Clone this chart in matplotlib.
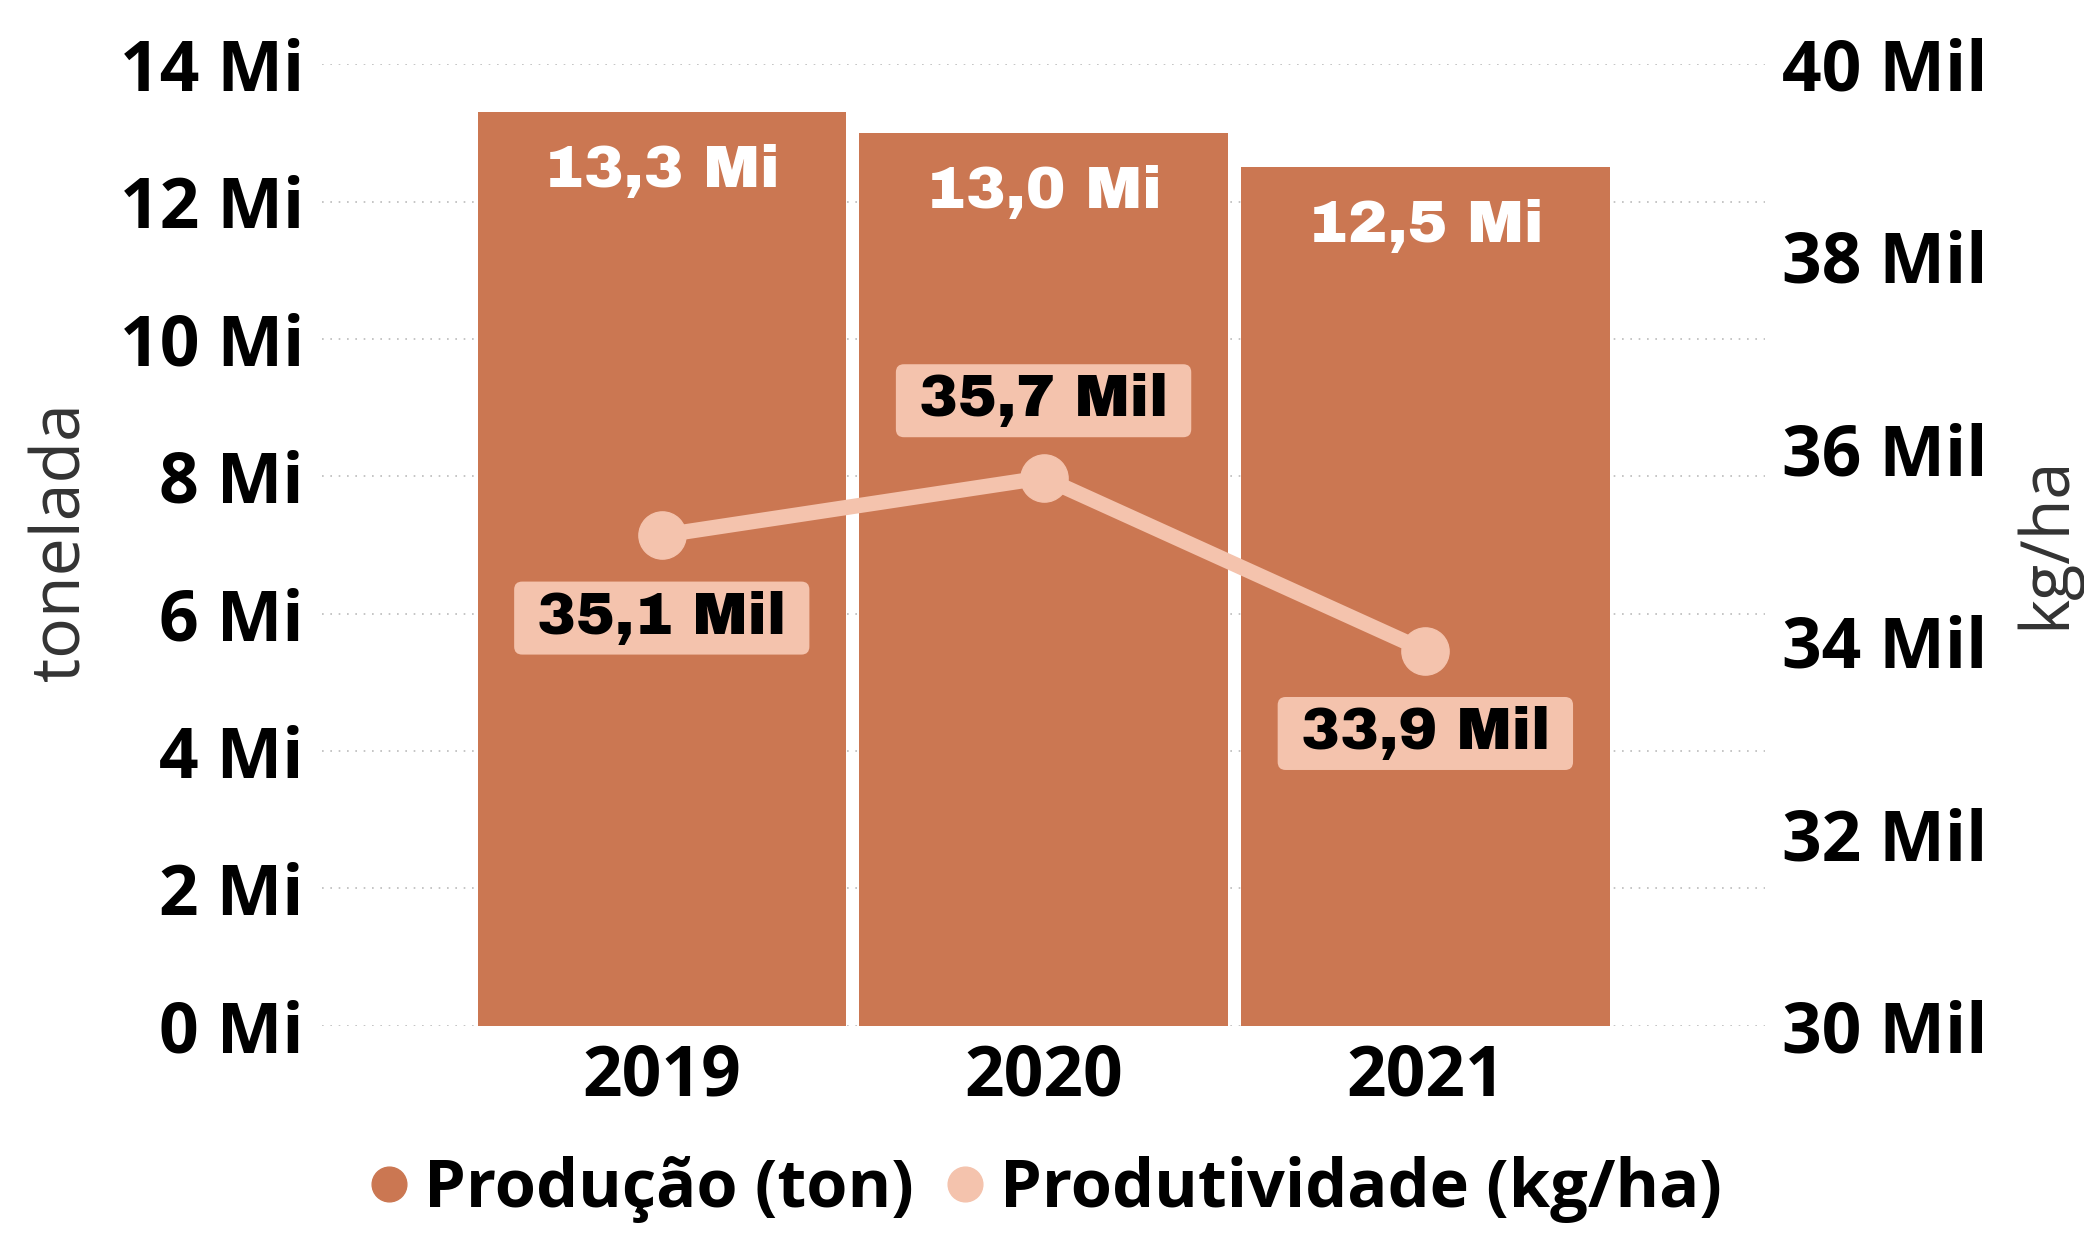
import matplotlib.pyplot as plt
import matplotlib.font_manager as fm
from matplotlib.lines import Line2D
from matplotlib.patches import FancyBboxPatch
from matplotlib.transforms import IdentityTransform

anos = ['2019', '2020', '2021']
producao = [13.3, 13.0, 12.5]          # milhões de toneladas
produtividade = [35.1, 35.7, 33.9]     # mil kg/ha
rotulos_prod = ['13,3 Mi', '13,0 Mi', '12,5 Mi']
rotulos_produt = ['35,1 Mil', '35,7 Mil', '33,9 Mil']
ticks_esq = [0, 2, 4, 6, 8, 10, 12, 14]
ticks_dir = [30, 32, 34, 36, 38, 40]

cor_barra = '#CB7752'
cor_linha = '#F4C3AD'
fonte = ['Open Sans', 'DejaVu Sans']

# fonte pesada p/ rótulos (tipo Arial Black), se existir
instaladas = {f.name for f in fm.fontManager.ttflist}
if 'Archivo Black' in instaladas:
    fonte_rot, peso_rot = ['Archivo Black', 'DejaVu Sans'], 'normal'
    tam_barra, tam_linha = 43, 42
else:
    fonte_rot, peso_rot = ['Liberation Sans', 'DejaVu Sans'], 'bold'
    tam_barra, tam_linha = 43, 48

fig = plt.figure(figsize=(20.84, 12.33), dpi=100)
ax = fig.add_axes([0.1545, 0.168, 0.6925, 0.78])
ax2 = ax.twinx()

x = range(len(anos))
ax.bar(x, producao, width=0.965, color=cor_barra, zorder=2)
for i, v in enumerate(producao):
    ax.text(i, v - 0.87, rotulos_prod[i], ha='center', va='center', color='white',
            fontsize=tam_barra, fontweight=peso_rot, family=fonte_rot, zorder=3)

ax.set_ylim(0, 14)
ax.set_xlim(-0.89, 2.89)
ax.set_yticks(ticks_esq)
ax.set_yticklabels([f'{t} Mi' for t in ticks_esq])
ax.set_xticks(list(x))
ax.set_xticklabels(anos)
ax.grid(axis='y', linestyle=(0, (1, 4)), color='#BBBBBB', linewidth=1.2, zorder=0)
ax.set_axisbelow(True)

ax2.plot(list(x), produtividade, color=cor_linha, linewidth=11, marker='o', markersize=34, zorder=4)
offsets = [-0.86, 0.80, -0.86]
textos = []
for i, v in enumerate(produtividade):
    t = ax2.text(i, v + offsets[i], rotulos_produt[i], ha='center', va='center', color='black',
                 fontsize=tam_linha, fontweight=peso_rot, family=fonte_rot, zorder=6)
    textos.append(t)
ax2.set_ylim(30, 40)
ax2.set_yticks(ticks_dir)
ax2.set_yticklabels([f'{t} Mil' for t in ticks_dir])

for a in (ax, ax2):
    for s in a.spines.values():
        s.set_visible(False)
    a.tick_params(length=0, labelsize=50)
    for lab in a.get_yticklabels() + a.get_xticklabels():
        lab.set_family(fonte)
        lab.set_fontweight('bold')
ax.tick_params(axis='y', pad=13)
ax2.tick_params(axis='y', pad=12)
ax.tick_params(axis='x', pad=12)

fig.text(0.0295, 0.561, 'tonelada', rotation=90, ha='center', va='center',
         fontsize=49, color='#333333', family=fonte)
fig.text(0.982, 0.56, 'kg/ha', rotation=90, ha='center', va='center',
         fontsize=48, color='#333333', family=fonte)

handles = [Line2D([], [], marker='o', linestyle='', color=cor_barra, markersize=25),
           Line2D([], [], marker='o', linestyle='', color=cor_linha, markersize=25)]
fig.legend(handles, ['Produção (ton)', 'Produtividade (kg/ha)'], loc='center',
           bbox_to_anchor=(0.5, 0.035), ncol=2, frameon=False, handlelength=0.8,
           handletextpad=0.12, columnspacing=0.38,
           prop={'family': fonte, 'weight': 'bold', 'size': 48})

# caixas arredondadas atrás dos rótulos da linha
fig.canvas.draw()
r = fig.canvas.get_renderer()
for t in textos:
    bb = t.get_window_extent(r)
    cx, cy = (bb.x0 + bb.x1) / 2, (bb.y0 + bb.y1) / 2
    w, h = bb.width + 46, 73
    caixa = FancyBboxPatch((cx - w / 2, cy - h / 2), w, h,
                           boxstyle='round,pad=0,rounding_size=8',
                           fc=cor_linha, ec='none', transform=IdentityTransform(), zorder=5)
    ax2.add_artist(caixa)

fig.savefig('out.png', dpi=100)
